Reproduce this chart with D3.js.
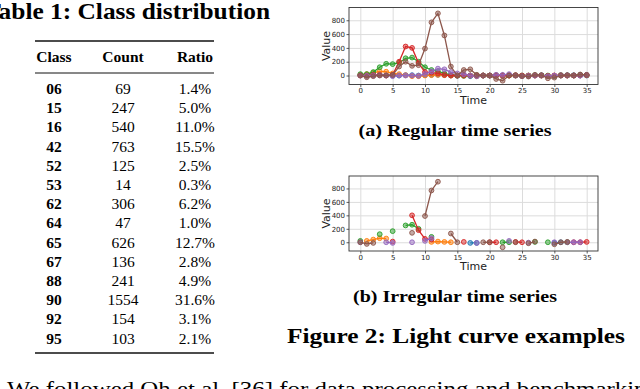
<!DOCTYPE html>
<html>
<head>
<meta charset="utf-8">
<script src="https://cdn.jsdelivr.net/npm/d3@7"></script>
<style>
  html, body { margin: 0; padding: 0; background: #fff; }
  svg { display: block; }
</style>
</head>
<body>
<svg id="page"></svg>
<script>
(function(){

  // DATA ////////////////////////////////////////////////////////////////////

  var tableHeader = ["Class", "Count", "Ratio"];
  var classes = ["06", "15", "16", "42", "52", "53", "62", "64", "65", "67", "88", "90", "92", "95"];
  var counts  = [69, 247, 540, 763, 125, 14, 306, 47, 626, 136, 241, 1554, 154, 103];
  var ratios  = ["1.4%", "5.0%", "11.0%", "15.5%", "2.5%", "0.3%", "6.2%", "1.0%", "12.7%", "2.8%", "4.9%", "31.6%", "3.1%", "2.1%"];

  var times = d3.range(0, 36);
  var xTicks = [0, 5, 10, 15, 20, 25, 30, 35];
  var yTicks = [0, 200, 400, 600, 800];

  var bandColors = ["#1f77b4", "#ff7f0e", "#2ca02c", "#d62728", "#9467bd", "#8c564b"];

  // flux per passband, one value per time step (regular series)
  var flux0 = [5, 0, 5, 10, 5, 0, 0, 5, 5, 0, 5, 10, 10, 5, 0, -5, -5, -10, -10, 0, 0, 5, 0, 5, 0, -5, -5, 0, 5, -10, -10, 0, 5, 5, 0, 0];
  var flux1 = [10, 20, 40, 60, 55, 30, 20, 5, -10, -10, 0, 5, 10, 5, 0, 0, -5, 0, -10, 0, 0, 5, 0, 0, 0, -5, -5, 0, 0, -5, 0, 5, 0, 0, 5, 5];
  var flux2 = [20, 20, 50, 120, 170, 165, 185, 250, 260, 200, 120, 80, 60, 30, 10, 0, 0, 0, 5, 0, 0, 0, 0, 0, 5, 0, 0, 5, 0, 0, -5, 5, 0, 0, 10, 5];
  var flux3 = [0, 0, 10, 10, 0, 10, 200, 420, 400, 180, 50, 40, 30, 10, 0, 0, 5, 0, 0, 0, 0, 0, 0, 0, 5, 0, 0, 0, 0, -5, 0, 0, 0, 0, 0, 5];
  var flux4 = [0, -5, 0, 5, 0, -10, 0, 0, 0, -5, 20, 60, 100, 90, 50, 30, 20, 0, -10, 0, 0, 10, 10, 20, 0, -10, -5, 0, 0, -10, 0, 5, 0, 0, 0, 10];
  var flux5 = [0, -25, -10, 0, 0, 10, 130, 200, 140, 150, 390, 770, 900, 580, 130, 0, 80, 90, 10, 0, 0, -50, -75, 0, 0, -10, -15, 10, 5, -40, -30, 0, 5, 0, 15, 10];

  // time steps kept in the irregular series
  var seen0 = [17, 18, 30, 31];
  var seen1 = [1, 2, 3, 4, 11, 12, 13, 14];
  var seen2 = [0, 3, 5, 7, 8, 9, 11, 22, 23, 27, 29, 32];
  var seen3 = [5, 8, 9, 10, 11, 16, 20, 21, 24, 25, 33, 34, 35];
  var seen4 = [0, 4, 5, 8, 10, 11, 18, 23, 26, 30, 32, 33, 34];
  var seen5 = [0, 1, 2, 8, 10, 11, 12, 14, 15, 19, 20, 22, 24, 26, 27, 30, 31, 32];

  var fluxes = [flux0, flux1, flux2, flux3, flux4, flux5];
  var seens  = [seen0, seen1, seen2, seen3, seen4, seen5];

  // PAGE ////////////////////////////////////////////////////////////////////

  var width = 640, height = 389;
  var serif = "'Liberation Serif', 'DejaVu Serif', serif";
  var sans  = "'DejaVu Sans', sans-serif";

  var svg = d3.select("svg#page").attr("width", width).attr("height", height);
  svg.append("rect").attr("width", width).attr("height", height).attr("fill", "#fff");

  // TABLE ///////////////////////////////////////////////////////////////////

  // title runs off the left edge, as in the page crop
  svg.append("text")
    .attr("x", 270).attr("y", 19)
    .attr("text-anchor", "end")
    .attr("font-family", serif).attr("font-weight", "bold").attr("font-size", 23)
    .attr("textLength", 286).attr("lengthAdjust", "spacingAndGlyphs")
    .text("Table 1: Class distribution");

  var colCenters = { "Class": 54, "Count": 123, "Ratio": 195 };

  var rowY = d3.scalePoint().domain(classes).range([94, 343.6]);

  var rules = [{ y: 41, w: 1.7 }, { y: 73, w: 1 }, { y: 353, w: 1.7 }];
  svg.selectAll("line.rule").data(rules).enter().append("line")
    .attr("class", "rule")
    .attr("x1", 35).attr("x2", 214)
    .attr("y1", function(d){ return d.y; }).attr("y2", function(d){ return d.y; })
    .attr("stroke", "#111").attr("stroke-width", function(d){ return d.w; });

  svg.selectAll("text.head").data(tableHeader).enter().append("text")
    .attr("class", "head")
    .attr("x", function(d){ return colCenters[d]; }).attr("y", 62)
    .attr("text-anchor", "middle")
    .attr("font-family", serif).attr("font-weight", "bold").attr("font-size", 15.5)
    .text(function(d){ return d; });

  var rows = svg.selectAll("g.row").data(classes).enter().append("g")
    .attr("class", "row")
    .attr("transform", function(d){ return "translate(0," + rowY(d) + ")"; })
    .attr("font-family", serif).attr("font-size", 15.5).attr("text-anchor", "middle");

  rows.append("text").attr("x", colCenters.Class).attr("font-weight", "bold")
    .text(function(d){ return d; });
  rows.append("text").attr("x", colCenters.Count)
    .text(function(d, i){ return counts[i]; });
  rows.append("text").attr("x", colCenters.Ratio)
    .text(function(d, i){ return ratios[i]; });

  // CHARTS //////////////////////////////////////////////////////////////////

  function drawPanel(top, bottom, regular){

    var left = 349, right = 598;

    var x = d3.scaleLinear().domain([-1.75, 36.75]).range([left, right]);
    var y = d3.scaleLinear().domain([-130, 985]).range([bottom, top]);

    var g = svg.append("g");

    // grid
    g.append("g").attr("transform", "translate(0," + bottom + ")")
      .call(d3.axisBottom(x).tickValues(xTicks).tickSize(-(bottom - top)).tickFormat(""))
      .call(function(s){ s.select(".domain").remove(); s.selectAll("line").attr("stroke", "#dcdcdc").attr("stroke-width", 1); });
    g.append("g").attr("transform", "translate(" + left + ",0)")
      .call(d3.axisLeft(y).tickValues(yTicks).tickSize(-(right - left)).tickFormat(""))
      .call(function(s){ s.select(".domain").remove(); s.selectAll("line").attr("stroke", "#dcdcdc").attr("stroke-width", 1); });

    // series
    var line = d3.line()
      .defined(function(d){ return d.v !== null; })
      .x(function(d){ return x(d.t); })
      .y(function(d){ return y(d.v); });

    fluxes.forEach(function(flux, k){
      var pts = times.map(function(t){
        var keep = regular || seens[k].indexOf(t) !== -1;
        return { t: t, v: keep ? flux[t] : null };
      });
      var color = bandColors[k];
      g.append("path").datum(pts)
        .attr("d", line)
        .attr("fill", "none").attr("stroke", color).attr("stroke-width", 1.3);
      g.selectAll("circle.b" + k).data(pts.filter(function(d){ return d.v !== null; })).enter()
        .append("circle")
        .attr("class", "b" + k)
        .attr("cx", function(d){ return x(d.t); })
        .attr("cy", function(d){ return y(d.v); })
        .attr("r", 2.4)
        .attr("fill", color).attr("fill-opacity", 0.5)
        .attr("stroke", color).attr("stroke-width", 0.9);
    });

    // frame
    g.append("rect")
      .attr("x", left).attr("y", top)
      .attr("width", right - left).attr("height", bottom - top)
      .attr("fill", "none").attr("stroke", "#333").attr("stroke-width", 0.9);

    // axes
    var xa = g.append("g").attr("transform", "translate(0," + bottom + ")")
      .call(d3.axisBottom(x).tickValues(xTicks).tickSize(2.5).tickPadding(1.5));
    var ya = g.append("g").attr("transform", "translate(" + left + ",0)")
      .call(d3.axisLeft(y).tickValues(yTicks).tickSize(2.5).tickPadding(1.5));
    [xa, ya].forEach(function(a){
      a.select(".domain").remove();
      a.selectAll("line").attr("stroke", "#333").attr("stroke-width", 0.8);
      a.selectAll("text").attr("font-family", sans).attr("font-size", 7).attr("fill", "#222");
    });

    g.append("text")
      .attr("x", (left + right) / 2).attr("y", bottom + 19)
      .attr("text-anchor", "middle")
      .attr("font-family", sans).attr("font-size", 11).attr("fill", "#222")
      .text("Time");

    g.append("text")
      .attr("transform", "translate(330," + ((top + bottom) / 2) + ") rotate(-90)")
      .attr("text-anchor", "middle")
      .attr("font-family", sans).attr("font-size", 11).attr("fill", "#222")
      .text("Value");
  }

  drawPanel(7.5, 84.5, true);
  drawPanel(176, 251, false);

  // CAPTIONS ////////////////////////////////////////////////////////////////

  var captions = [
    { text: "(a) Regular time series", x: 455, y: 136, size: 16, len: 193 },
    { text: "(b) Irregular time series", x: 455, y: 302, size: 16, len: 204 },
    { text: "Figure 2: Light curve examples", x: 456, y: 343, size: 21.5, len: 338 }
  ];

  svg.selectAll("text.cap").data(captions).enter().append("text")
    .attr("class", "cap")
    .attr("x", function(d){ return d.x; }).attr("y", function(d){ return d.y; })
    .attr("text-anchor", "middle")
    .attr("font-family", serif).attr("font-weight", "bold")
    .attr("font-size", function(d){ return d.size; })
    .attr("textLength", function(d){ return d.len; })
    .attr("lengthAdjust", "spacingAndGlyphs")
    .text(function(d){ return d.text; });

  // body text line, cut by the bottom edge of the crop
  svg.append("text")
    .attr("x", 7).attr("y", 396)
    .attr("font-family", serif).attr("font-size", 21)
    .attr("textLength", 652).attr("lengthAdjust", "spacingAndGlyphs")
    .text("We followed Oh et al. [36] for data processing and benchmarking");

})();
</script>
</body>
</html>
